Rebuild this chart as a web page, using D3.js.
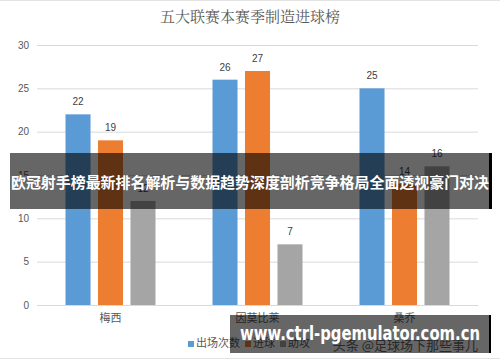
<html>
  <head>
    <meta charset="utf-8">
    <title>五大联赛本赛季制造进球榜</title>
    <style>
      body { margin: 0; background: #fff; }
      text { font-family: "Noto Sans CJK SC", "Liberation Sans", sans-serif; }
    </style>
  </head>
  <body>
    <div id="container"></div>
  </body>
  <script src="https://cdn.jsdelivr.net/npm/d3@7"></script>
  <script>
  var players = ["梅西", "因莫比莱", "桑乔"];
  var seriesNames = ["出场次数", "进球", "助攻"];
  var appearances = [22, 26, 25];
  var goals = [19, 27, 14];
  var assists = [12, 7, 16];
  var yTicks = [0, 5, 10, 15, 20, 25, 30];
  var colors = ["#5b9bd5", "#ed7d31", "#a5a5a5"];

  function main() {
    var width = 500, height = 362;
    var svg = d3.select("#container").append("svg")
      .attr("width", width)
      .attr("height", height);

    var left = 37, right = 478, top = 45, bottom = 305;
    var series = [appearances, goals, assists];

    var x0 = d3.scaleBand().domain(players).range([left, right]);
    var x1 = d3.scaleBand().domain(seriesNames)
      .range([28.5, x0.bandwidth() - 28.5])
      .paddingInner(0.23);
    var y = d3.scaleLinear().domain([0, 30]).range([bottom, top]);

    // frame lines
    svg.append("line").attr("x1", 0).attr("x2", width).attr("y1", 0.5).attr("y2", 0.5)
      .attr("stroke", "#e3e3e3");
    svg.append("line").attr("x1", 0).attr("x2", width).attr("y1", 358.5).attr("y2", 358.5)
      .attr("stroke", "#e3e3e3");

    svg.append("text")
      .attr("x", 250).attr("y", 22)
      .attr("text-anchor", "middle")
      .attr("font-size", 15)
      .attr("fill", "#595959")
      .style("font-family", "'Noto Serif CJK SC', 'Noto Sans CJK SC', serif")
      .text("五大联赛本赛季制造进球榜");

    // grid + y labels
    var yAxis = d3.axisLeft(y).tickValues(yTicks).tickSize(-(right - left)).tickPadding(8);
    var ga = svg.append("g").attr("transform", "translate(" + left + ",0)").call(yAxis);
    ga.select(".domain").remove();
    ga.selectAll(".tick line").attr("stroke", "#d9d9d9");
    ga.selectAll(".tick text")
      .attr("fill", "#595959")
      .attr("font-size", 10)
      .style("font-family", "'Liberation Sans', sans-serif");

    // category axis
    var xAxis = d3.axisBottom(x0).tickSize(0).tickPadding(9);
    var gx = svg.append("g").attr("transform", "translate(0," + bottom + ")").call(xAxis);
    gx.select(".domain").attr("stroke", "#d9d9d9");
    gx.selectAll(".tick text").attr("fill", "#595959").attr("font-size", 11);

    var groups = svg.selectAll(".grp").data(players).enter().append("g")
      .attr("class", "grp")
      .attr("transform", function(d) { return "translate(" + x0(d) + ",0)"; });

    groups.each(function(p, i) {
      var g = d3.select(this);
      var rows = seriesNames.map(function(s, k) { return { s: s, v: series[k][i], c: colors[k] }; });
      g.selectAll("rect").data(rows).enter().append("rect")
        .attr("x", function(d) { return x1(d.s); })
        .attr("y", function(d) { return y(d.v); })
        .attr("width", x1.bandwidth())
        .attr("height", function(d) { return bottom - y(d.v); })
        .attr("fill", function(d) { return d.c; });
      g.selectAll(".lbl").data(rows).enter().append("text")
        .attr("class", "lbl")
        .attr("x", function(d) { return x1(d.s) + x1.bandwidth() / 2; })
        .attr("y", function(d) { return y(d.v) - 9; })
        .attr("text-anchor", "middle")
        .attr("font-size", 10)
        .attr("fill", "#404040")
        .style("font-family", "'Liberation Sans', sans-serif")
        .text(function(d) { return d.v; });
    });

    // legend
    var lg = svg.append("g").attr("transform", "translate(188,347)");
    var lx = 0;
    seriesNames.forEach(function(s, k) {
      lg.append("rect").attr("x", lx).attr("y", -6).attr("width", 6).attr("height", 6).attr("fill", colors[k]);
      var t = lg.append("text").attr("x", lx + 8).attr("y", 0).attr("font-size", 11)
        .attr("fill", "#595959").text(s);
      lx += 8 + t.node().getComputedTextLength() + 5;
    });

    svg.append("text")
      .attr("x", 478).attr("y", 350)
      .attr("text-anchor", "end")
      .attr("font-size", 13)
      .attr("fill", "#666")
      .text("头条 @足球场下那些事儿");

    // overlay banners
    svg.append("rect").attr("x", 10).attr("y", 153).attr("width", 480).attr("height", 56)
      .attr("fill", "rgba(0,0,0,0.6)");
    svg.append("rect").attr("x", 489).attr("y", 153).attr("width", 3).attr("height", 56)
      .attr("fill", "#000");
    svg.append("text")
      .attr("x", 250).attr("y", 188)
      .attr("text-anchor", "middle")
      .attr("font-size", 15)
      .attr("font-weight", "bold")
      .attr("fill", "#fff")
      .attr("textLength", 478)
      .attr("lengthAdjust", "spacingAndGlyphs")
      .text("欧冠射手榜最新排名解析与数据趋势深度剖析竞争格局全面透视豪门对决");

    svg.append("rect").attr("x", 230).attr("y", 315).attr("width", 260).attr("height", 38)
      .attr("fill", "rgba(0,0,0,0.6)");
    svg.append("rect").attr("x", 489).attr("y", 315).attr("width", 2).attr("height", 38)
      .attr("fill", "#000");
    svg.append("text")
      .attr("x", 240).attr("y", 340)
      .attr("font-size", 20)
      .attr("font-weight", "bold")
      .attr("fill", "#fff")
      .attr("textLength", 240)
      .attr("lengthAdjust", "spacingAndGlyphs")
      .style("font-family", "'DejaVu Sans', sans-serif")
      .text("www.ctrl-pgemulator.com.cn");
  }

  window.onload = main;
  </script>
</html>
